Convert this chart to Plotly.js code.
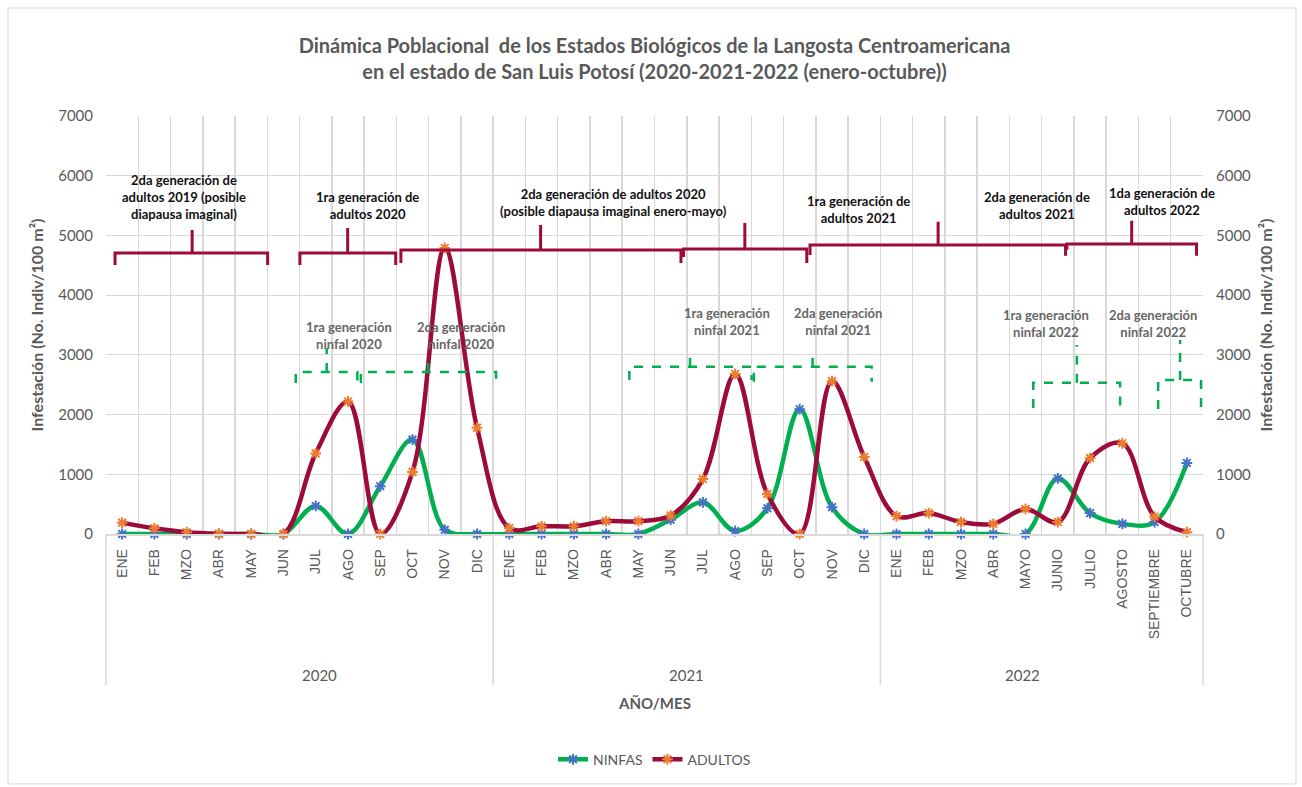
<!DOCTYPE html>
<html>
<head>
<meta charset="utf-8">
<script src="https://cdn.plot.ly/plotly-3.0.1.min.js"></script>
<style>
html,body{margin:0;padding:0;background:#fff;}
#chart{width:1302px;height:787px;}
</style>
</head>
<body>
<div id="chart"></div>
<script>
// ---------------- DATA ----------------
const months = ['ENE','FEB','MZO','ABR','MAY','JUN','JUL','AGO','SEP','OCT','NOV','DIC',
                'ENE','FEB','MZO','ABR','MAY','JUN','JUL','AGO','SEP','OCT','NOV','DIC',
                'ENE','FEB','MZO','ABR','MAYO','JUNIO','JULIO','AGOSTO','SEPTIEMBRE','OCTUBRE'];
const years = ['2020','2021','2022'];
const monthsPerYear = [12, 12, 10];
const ninfas  = [0,0,0,0,0,0,470,0,800,1580,70,0,
                 0,0,0,0,0,240,530,50,430,2090,450,0,
                 0,0,0,0,0,930,350,170,200,1190];
const adultos = [190,95,30,5,0,0,1350,2220,0,1040,4790,1780,
                 100,130,130,215,215,310,920,2680,670,0,2560,1290,
                 300,350,200,170,420,200,1270,1520,290,30];
const seriesNames = ['NINFAS','ADULTOS'];
const yTicks = [0,1000,2000,3000,4000,5000,6000,7000];

const titleLines = ['Dinámica Poblacional  de los Estados Biológicos de la Langosta Centroamericana',
                    'en el estado de San Luis Potosí (2020-2021-2022 (enero-octubre))'];
const yTitle = 'Infestación (No. Indiv/100 m²)';
const xTitle = 'AÑO/MES';

const adultLabels = ['2da generación de<br>adultos 2019 (posible<br>diapausa imaginal)',
                     '1ra generación de<br>adultos 2020',
                     '2da generación de adultos 2020<br>(posible diapausa imaginal enero-mayo)',
                     '1ra generación de<br>adultos 2021',
                     '2da generación de<br>adultos 2021',
                     '1da generación de<br>adultos 2022'];
const nymphLabels = ['1ra generación<br>ninfal 2020','2da generación<br>ninfal 2020',
                     '1ra generación<br>ninfal 2021','2da generación<br>ninfal 2021',
                     '1ra generación<br>ninfal 2022','2da generación<br>ninfal 2022'];

// ---------------- LAYOUT HELPERS (positions / styles) ----------------
const GREEN = '#00B050', RED = '#9C0B3C', BLUE = '#4472C4', ORANGE = '#ED7D31';
const GRAY = '#595959', GRID = '#D9D9D9';
const FONT = 'Lato, "Open Sans", sans-serif';
const nCat = months.length;
const xs = months.map((_, i) => i);

// label anchor positions [x (category index), y (value)]
const adultPos = [[1.92,5643],[7.61,5509],[15.24,5551],[22.81,5426],[28.35,5509],[32.22,5576]];
const nymphPos = [[7.03,3332],[10.50,3332],[18.74,3567],[22.19,3567],[28.62,3533],[31.94,3533]];
// brackets: [x0, x1, xm, yLine, yBottomLeft, yBottomRight, yTop]
const redBrackets = [
  [-0.22, 4.51, 2.17, 4706, 4505, 4505, 5091],
  [5.51, 8.48, 6.99, 4706, 4505, 4505, 5124],
  [8.64, 17.32, 12.97, 4756, 4538, 4538, 5175],
  [17.40, 21.22, 19.30, 4773, 4640, 4538, 5208],
  [21.32, 29.24, 25.29, 4840, 4672, 4660, 5230],
  [29.28, 33.30, 31.29, 4856, 4760, 4660, 5247]
];
const greenBrackets = [
  [5.38, 7.29, 6.34, 2713, 2529, 2529, 3115],
  [7.40, 11.59, 9.48, 2713, 2529, 2529, 2864],
  [15.72, 19.51, 17.60, 2802, 2579, 2579, 2998],
  [19.58, 23.23, 21.40, 2802, 2550, 2550, 3036],
  [28.24, 30.93, 29.59, 2534, 2110, 2110, 3165],
  [32.11, 33.44, 32.79, 2579, 2093, 2093, 3249]
];
function bracketPath(b) {
  const [x0, x1, xm, yl, yb0, yb1, yt] = b;
  return `M ${x0},${yb0} L ${x0},${yl} L ${x1},${yl} L ${x1},${yb1} M ${xm},${yl} L ${xm},${yt}`;
}

const shapes = [];
redBrackets.forEach(b => shapes.push({type:'path', xref:'x', yref:'y', path: bracketPath(b),
  line:{color:RED, width:3}}));
greenBrackets.forEach(b => shapes.push({type:'path', xref:'x', yref:'y', path: bracketPath(b),
  line:{color:GREEN, width:2.5, dash:'dash'}}));

// multi-level category axis: group dividers and year labels (paper coords)
const annotations = [];
let cum = 0;
const dividers = [0];
monthsPerYear.forEach((n, k) => {
  const center = (cum + n / 2) / nCat;
  annotations.push({xref:'paper', yref:'paper', x:center, y:-0.337, text:years[k], showarrow:false,
    font:{family:FONT, size:15, color:GRAY}, yanchor:'middle'});
  cum += n;
  dividers.push(cum / nCat);
});
dividers.forEach(d => shapes.push({type:'line', xref:'paper', yref:'paper', x0:d, x1:d, y0:0, y1:-0.361,
  line:{color:GRID, width:1.5}}));
// outer chart border
shapes.push({type:'rect', xref:'paper', yref:'paper', x0:-0.0893, x1:1.0848, y0:-0.598, y1:1.2584,
  line:{color:GRID, width:1}, layer:'below'});

adultLabels.forEach((t, i) => annotations.push({xref:'x', yref:'y', x:adultPos[i][0], y:adultPos[i][1],
  text:'<b>'+t+'</b>', showarrow:false, font:{family:FONT, size:13, color:'#111'}, align:'center'}));
nymphLabels.forEach((t, i) => annotations.push({xref:'x', yref:'y', x:nymphPos[i][0], y:nymphPos[i][1],
  text:'<b>'+t+'</b>', showarrow:false, font:{family:FONT, size:13, color:'#666'}, align:'center'}));
annotations.push({xref:'paper', yref:'paper', x:0.5, y:-0.404, text:'<b>'+xTitle+'</b>', showarrow:false,
  font:{family:FONT, size:15, color:GRAY}, yanchor:'middle'});

// ---------------- TRACES ----------------
const traces = [
  {x: xs, y: ninfas, name: seriesNames[0], type:'scatter', mode:'lines+markers',
   line:{color:GREEN, width:4.5, shape:'spline', smoothing:1},
   marker:{symbol:'asterisk-open', size:9, color:BLUE, line:{color:BLUE, width:2}},
   cliponaxis:false},
  {x: xs, y: adultos, name: seriesNames[1], type:'scatter', mode:'lines+markers',
   line:{color:RED, width:4.5, shape:'spline', smoothing:1},
   marker:{symbol:'asterisk-open', size:9, color:ORANGE, line:{color:ORANGE, width:2}},
   cliponaxis:false},
  {x: [xs[0]], y: [null], yaxis:'y2', showlegend:false, hoverinfo:'skip', mode:'markers'}
];

const yAxisCommon = {
  range:[0,7000], tickvals: yTicks, ticktext: yTicks.map(String),
  tickfont:{family:FONT, size:15, color:GRAY},
  showgrid:true, gridcolor:GRID, gridwidth:1, zeroline:false, showline:false,
  ticks:'', ticklabelstandoff:12, fixedrange:true
};

const layout = {
  width:1302, height:787,
  margin:{l:106, r:99, t:116, b:253, pad:0},
  paper_bgcolor:'#fff', plot_bgcolor:'#fff',
  title:{text:'<b>'+titleLines[0]+'</b><br><b>'+titleLines[1]+'</b>', xref:'paper', x:0.5, xanchor:'center',
    y:0.933, yanchor:'middle', font:{family:FONT, size:20, color:GRAY}},
  xaxis:{type:'linear', range:[-0.5, nCat-0.5], tickmode:'array', tickvals: xs, ticktext: months,
    tickangle:-90, tickfont:{family:'"Liberation Sans", Arial, sans-serif', size:14, color:GRAY},
    ticklabelstandoff:8,
    showgrid:false, zeroline:false, showline:true, linecolor:GRID, linewidth:1.5, ticks:'',
    minor:{tickmode:'array', tickvals: xs.map(i => i - 0.5).concat([nCat-0.5]), showgrid:true, gridcolor:GRID, gridwidth:1.5, ticks:''}},
  yaxis:Object.assign({}, yAxisCommon, {
    title:{text:'<b>'+yTitle+'</b>', font:{family:FONT, size:16, color:GRAY}, standoff:10}}),
  yaxis2:Object.assign({}, yAxisCommon, {overlaying:'y', side:'right', anchor:'x', showgrid:false,
    title:{text:'<b>'+yTitle+'</b>', font:{family:FONT, size:16, color:GRAY}, standoff:10}}),
  legend:{orientation:'h', x:0.5, xanchor:'center', y:-0.54, yanchor:'middle',
    font:{family:FONT, size:14, color:GRAY}, traceorder:'normal'},
  shapes: shapes,
  annotations: annotations,
  showlegend:true
};

Plotly.newPlot('chart', traces, layout, {displayModeBar:false, staticPlot:true});
</script>
</body>
</html>
